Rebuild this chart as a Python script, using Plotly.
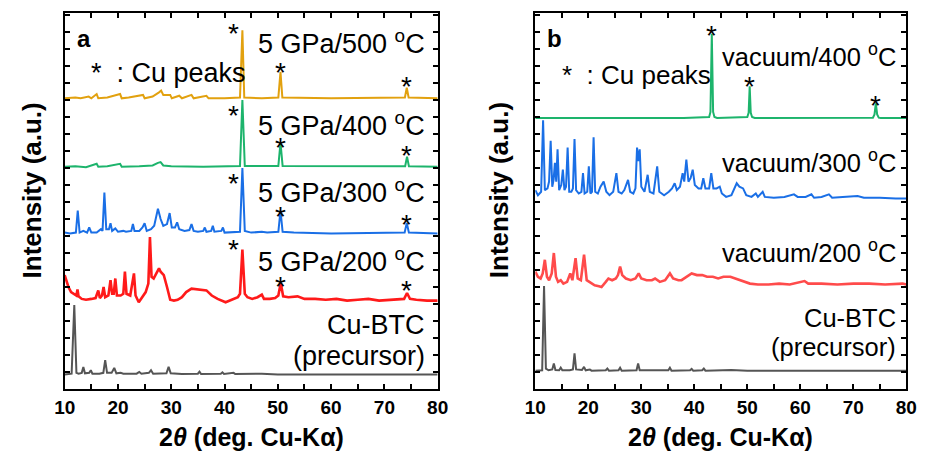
import plotly.graph_objects as go

# ---------------- data (2theta in degrees, intensity in arbitrary offset units) ----------------
orange_a = [(10,17.1),(12,17.15),(13,17.1),(14.5,17.2),(15,17.1),(16,17.35),(16.3,17.1),(18,17.15),
            (20.4,17.35),(20.7,17.1),(22,17.15),(24.7,17.3),(25,17.1),(26.5,17.2),(27.7,17.45),(28.1,17.55),
            (28.5,17.3),(29.8,17.3),(30.1,17.1),(31.5,17.25),(32,17.1),(33.8,17.3),(34.2,17.1),(36.6,17.25),
            (37,17.1),(40,17.1),(42.9,17.15),(43.35,21.1),(43.7,17.15),(47,17.1),(50.1,17.15),(50.5,18.65),
            (50.85,17.15),(60,17.1),(73.85,17.15),(74.2,17.72),(74.55,17.15),(80,17.1)]

green_a = [(10,13.08),(12,13.1),(14,13.05),(16,13.25),(16.3,13.08),(18,13.1),(20.4,13.25),(20.7,13.08),
           (24,13.1),(26.5,13.15),(27.5,13.3),(28,13.35),(28.5,13.15),(30,13.1),(36,13.08),(42.9,13.12),
           (43.35,17.0),(43.8,13.12),(50.1,13.12),(50.5,14.5),(50.9,13.12),(73.9,13.1),(74.25,13.67),
           (74.6,13.1),(80,13.08)]

blue_a = [(10,9.2),(11,9.15),(12.1,9.2),(12.45,10.5),(12.8,9.2),(13.5,9.3),(14.2,9.2),(14.6,9.5),(15,9.2),
          (16,9.2),(16.8,9.4),(17.1,9.3),(17.45,11.55),(17.8,9.4),(18.3,9.4),(18.6,9.75),(18.9,9.3),(19.5,9.45),
          (20,9.25),(21,9.3),(21.5,9.25),(22.5,9.3),(22.8,9.7),(23.1,9.3),(24,9.3),(24.6,9.5),(25.0,9.75),
          (25.4,9.3),(26.2,9.4),(26.8,9.6),(27.5,10.6),(28.0,10.0),(28.5,9.6),(29.2,9.7),(29.7,10.35),
          (30.1,9.5),(30.7,9.5),(31.1,9.8),(31.5,9.4),(32.5,9.3),(33.4,9.35),(33.8,9.7),(34.2,9.3),(35,9.25),
          (36.0,9.3),(36.3,9.5),(36.6,9.25),(37.5,9.3),(37.8,9.6),(38.1,9.25),(39.4,9.3),(39.7,9.5),(40,9.2),
          (42.9,9.25),(43.35,13.0),(43.8,9.3),(45,9.2),(47,9.25),(48,9.2),(50.1,9.25),(50.5,10.5),(50.9,9.25),
          (53,9.2),(60,9.15),(73.8,9.2),(74.2,9.76),(74.6,9.2),(80,9.15)]

red_a = [(10,6.7),(10.3,6.4),(10.7,6.0),(11.2,5.7),(11.8,5.55),(12.2,5.5),(12.4,5.85),(12.6,5.45),(13.2,5.3),
         (14,5.25),(15,5.3),(15.8,5.35),(16.3,5.8),(16.6,5.35),(17.0,5.5),(17.3,6.0),(17.6,5.4),(18.2,5.5),
         (18.6,6.4),(18.9,5.6),(19.2,5.6),(19.5,6.5),(19.8,5.5),(20.5,5.5),(21.0,5.6),(21.3,6.9),(21.6,5.6),
         (22.3,5.5),(23.0,6.8),(23.3,5.5),(23.9,5.1),(24.6,5.4),(25.2,5.7),(25.7,6.2),(26.0,8.94),(26.3,6.6),
         (26.7,6.5),(27.2,6.8),(27.7,7.1),(28.0,6.9),(28.6,6.7),(29.2,6.0),(29.8,5.25),(30.5,5.2),(31.2,5.25),
         (32.0,5.4),(32.8,5.7),(33.8,5.9),(35.0,5.85),(36.6,5.8),(37.6,5.5),(38.7,5.3),(40.2,5.1),(41.5,5.25),
         (42.5,5.4),(42.9,5.6),(43.35,8.2),(43.8,5.6),(44.3,5.4),(45.2,5.3),(46.2,5.4),(47.0,5.55),(47.4,5.3),
         (48.5,5.3),(49.5,5.35),(50.1,5.5),(50.55,6.24),(51.0,5.45),(52.0,5.4),(53.7,5.45),(55,5.3),(57,5.3),
         (59,5.25),(61,5.3),(63,5.2),(65,5.25),(67,5.3),(69,5.2),(71,5.25),(73.7,5.3),(74.25,5.65),(74.8,5.3),
         (76,5.25),(78,5.2),(80,5.2)]

gray_a = [(10,0.86),(11.3,0.9),(11.8,4.94),(12.2,0.95),(12.6,0.9),(13.2,0.95),(13.5,1.3),(13.8,0.92),
          (14.6,0.95),(14.9,1.1),(15.2,0.9),(16.5,0.9),(17.25,0.95),(17.6,1.7),(17.95,0.95),(18.8,0.95),
          (19.3,1.24),(19.7,0.92),(20.5,0.95),(21,0.9),(23.5,0.9),(24,1.0),(24.4,0.9),(25.8,0.95),(26.2,1.1),
          (26.6,0.9),(29.1,0.92),(29.5,1.3),(29.9,0.92),(32,0.88),(35.0,0.9),(35.3,1.02),(35.6,0.88),(38,0.88),
          (39.3,0.9),(39.6,0.98),(39.9,0.88),(41.7,0.95),(42,0.88),(47,0.9),(50,0.86),(60,0.86),(80,0.86)]

green_b = [(10,15.94),(38,15.94),(42.8,16.0),(43.05,16.3),(43.3,20.9),(43.55,16.3),(43.8,16.0),(44.3,15.94),
           (50.0,16.0),(50.25,16.25),(50.45,17.8),(50.65,16.25),(50.9,16.0),(51.4,15.94),(73.7,15.96),
           (74.0,16.15),(74.25,16.8),(74.5,16.15),(74.8,15.96),(75.2,15.94),(80,15.94)]

blue_b = [(10,11.7),(10.5,11.4),(11.1,11.6),(11.47,15.8),(11.8,11.7),(12.3,11.8),(12.6,12.2),(12.9,14.6),
          (13.2,11.9),(13.45,12.3),(13.7,13.3),(13.95,12.2),(14.2,14.1),(14.5,11.7),(14.9,12.0),(15.2,12.9),
          (15.5,11.7),(15.8,11.9),(16.1,14.2),(16.4,11.6),(16.8,11.6),(17.1,11.8),(17.4,14.7),(17.7,11.7),
          (18.2,11.5),(18.7,11.6),(19.0,12.7),(19.3,11.5),(19.8,11.6),(20.1,13.1),(20.4,11.5),(20.7,11.6),
          (21.0,14.8),(21.3,11.6),(21.8,11.5),(22.3,11.9),(22.9,12.2),(23.4,11.6),(24.0,11.4),(24.7,11.6),
          (25.3,12.7),(25.7,11.6),(26.3,11.5),(26.8,11.7),(27.5,12.3),(27.9,11.6),(28.5,11.5),(28.9,11.8),
          (29.2,14.2),(29.45,13.4),(29.7,14.1),(30.0,11.9),(30.6,11.6),(31.2,12.6),(31.6,11.6),(32.3,11.5),
          (33.0,13.1),(33.4,11.6),(34.3,11.4),(35.2,11.6),(35.8,11.8),(36.3,12.1),(36.7,11.7),(37.3,11.9),
          (37.8,12.7),(38.1,12.2),(38.5,13.5),(38.9,12.2),(39.3,12.4),(39.7,12.9),(40.1,12.0),(40.8,11.8),
          (41.3,11.8),(41.7,12.4),(42.1,11.8),(42.8,11.8),(43.2,12.7),(43.6,11.8),(44.2,11.8),(44.8,11.9),
          (45.2,11.5),(46.0,11.3),(47.0,11.4),(47.6,11.8),(48.0,12.1),(48.5,11.9),(49.2,11.8),(49.8,11.4),
          (50.8,11.3),(51.6,11.5),(52.0,11.3),(52.9,11.6),(53.3,11.3),(55,11.25),(57,11.3),(58.8,11.45),
          (59.5,11.3),(61,11.3),(62.1,11.45),(62.6,11.25),(64,11.3),(65.4,11.45),(66,11.25),(68,11.3),
          (70.8,11.35),(72,11.25),(75,11.25),(78,11.2),(80,11.2)]

red_b = [(10,6.9),(10.5,6.6),(11.0,6.5),(11.4,6.8),(11.8,7.6),(12.2,6.6),(12.6,6.4),(13.1,6.8),(13.5,8.0),
         (13.9,6.6),(14.3,6.3),(14.8,6.4),(15.3,6.2),(16.0,6.3),(16.6,6.8),(17.0,6.4),(17.6,7.7),(18.0,6.5),
         (18.6,6.4),(19.2,7.9),(19.7,6.4),(20.3,6.3),(21.2,6.1),(22.0,6.05),(22.5,6.0),(23.3,6.3),(23.8,6.5),
         (24.5,6.4),(25.2,6.5),(25.6,6.7),(26.0,7.2),(26.4,6.7),(27.1,6.5),(28.0,6.4),(28.9,6.5),(29.5,6.8),
         (30.0,6.5),(31.0,6.4),(32.0,6.4),(32.6,6.5),(33.5,6.3),(34.5,6.4),(35.4,6.8),(36.0,6.5),(37.0,6.4),
         (37.6,6.4),(38.6,6.6),(39.5,6.8),(40.5,6.7),(41.5,6.7),(42.4,6.6),(43.5,6.6),(44.5,6.5),(45.5,6.6),
         (46.8,6.6),(47.8,6.5),(48.7,6.4),(49.6,6.3),(50.5,6.2),(52,6.15),(54,6.15),(56,6.2),(58,6.15),
         (60.8,6.35),(61.5,6.2),(64,6.2),(67,6.15),(70,6.2),(73,6.2),(76,6.15),(79.3,6.2),(80,6.15)]

gray_b = [(10,1.08),(11.3,1.1),(11.65,6.06),(12.0,1.2),(12.5,1.1),(13.2,1.15),(13.5,1.5),(13.8,1.12),
          (14.5,1.1),(14.8,1.25),(15.1,1.1),(16.5,1.1),(17.1,1.15),(17.4,2.1),(17.7,1.15),(18.8,1.12),
          (19.2,1.3),(19.5,1.1),(20.3,1.15),(20.6,1.08),(23.3,1.1),(23.6,1.2),(23.9,1.08),(25.7,1.1),
          (26.0,1.25),(26.3,1.08),(29.1,1.1),(29.4,1.5),(29.7,1.1),(32,1.1),(35.1,1.1),(35.4,1.25),(35.7,1.08),
          (39.2,1.1),(39.5,1.18),(39.8,1.08),(41.5,1.1),(41.8,1.2),(42.1,1.08),(47,1.12),(50,1.08),(80,1.08)]

# Cu peak asterisk markers (2theta, intensity)
stars_a = [(41.7,21.41),(50.5,19.06),(74.1,18.24),(41.7,16.53),(50.5,14.66),(74.1,14.18),
           (41.7,12.53),(50.5,10.61),(74.1,10.12),(41.7,8.65),(50.5,6.48),(74.1,6.29)]
stars_b = [(43.3,21.24),(50.5,18.29),(74.25,17.12)]

labels_a = ["5 GPa/500 <sup>o</sup>C", "5 GPa/400 <sup>o</sup>C", "5 GPa/300 <sup>o</sup>C",
            "5 GPa/200 <sup>o</sup>C", "Cu-BTC", "(precursor)"]
labels_b = ["vacuum/400 <sup>o</sup>C", "vacuum/300 <sup>o</sup>C", "vacuum/200 <sup>o</sup>C",
            "Cu-BTC", "(precursor)"]
x_ticks = [10, 15, 20, 25, 30, 35, 40, 45, 50, 55, 60, 65, 70, 75, 80]
x_ticktext = ["10", "", "20", "", "30", "", "40", "", "50", "", "60", "", "70", "", "80"]

# ---------------- styles ----------------
FONT = "Liberation Sans, Arial, sans-serif"
W, H = 930, 452
C_OR, C_GR, C_BL, C_RD, C_RD2, C_GY = "#E2A10F", "#1DB46C", "#1A6FE6", "#FF1A1A", "#FF4B4B", "#555555"

fig = go.Figure()

def add(pts, color, xa, ya, width=2.0):
    xs, ys = zip(*pts)
    fig.add_trace(go.Scatter(x=list(xs), y=list(ys), mode="lines", xaxis=xa, yaxis=ya,
                             line=dict(color=color, width=width), showlegend=False, hoverinfo="skip"))

add(gray_a, C_GY, "x", "y"); add(red_a, C_RD, "x", "y", 2.6); add(blue_a, C_BL, "x", "y")
add(green_a, C_GR, "x", "y"); add(orange_a, C_OR, "x", "y")
add(gray_b, C_GY, "x2", "y2"); add(red_b, C_RD2, "x2", "y2", 2.6); add(blue_b, C_BL, "x2", "y2")
add(green_b, C_GR, "x2", "y2")

px = lambda v: v / W
py = lambda v: 1 - v / H
ydom = [py(389), py(13)]
yrange = [0, 376 / 17]

xcommon = dict(range=[10, 80], tickvals=x_ticks, ticktext=x_ticktext, ticks="inside", ticklen=5,
               tickwidth=1.5, tickcolor="black", showline=True, linewidth=2, linecolor="black",
               mirror="ticks", showgrid=False, zeroline=False,
               tickfont=dict(family=FONT, size=19, color="black", weight="bold"))
ycommon = dict(range=yrange, tickvals=list(range(1, 23)), ticks="inside", ticklen=5, tickwidth=1.5,
               tickcolor="black", showticklabels=False, showline=True, linewidth=2, linecolor="black",
               mirror="ticks", showgrid=False, zeroline=False, domain=ydom)

fig.update_layout(
    width=W, height=H, margin=dict(l=0, r=0, t=0, b=0),
    paper_bgcolor="white", plot_bgcolor="white",
    xaxis=dict(domain=[px(55), px(437)], anchor="y", **xcommon),
    yaxis=dict(anchor="x", **ycommon),
    xaxis2=dict(domain=[px(537), px(917)], anchor="y2", **xcommon),
    yaxis2=dict(anchor="x2", **ycommon),
)

ann = []
def text(x, y, s, size, xanchor="right", xref="paper", yref="paper", yshift=0, angle=0):
    ann.append(dict(x=x, y=y, xref=xref, yref=yref, text=s, showarrow=False, xanchor=xanchor,
                    yanchor="middle", yshift=yshift, textangle=angle,
                    font=dict(family=FONT, size=size, color="black")))

for (lx, ly) in zip(labels_a, [42, 124, 191, 260, 325, 356]):
    text(px(426), py(ly), lx, 27)
for (lx, ly) in zip(labels_b, [55, 161, 251, 318, 347]):
    text(px(908), py(ly), lx, 25.5)
for (sx, sy) in stars_a:
    text(sx, sy, "*", 28, "center", "x", "y", -8)
for (sx, sy) in stars_b:
    text(sx, sy, "*", 28, "center", "x2", "y2", -8)

text(px(80), py(73), "*  : Cu peaks", 27, "left")
text(px(562), py(75), "*  : Cu peaks", 26, "left")
text(px(66), py(38), "<b>a</b>", 24, "left")
text(px(547), py(39), "<b>b</b>", 24, "left")
text(px(246), py(437), "<b>2<i>θ</i> (deg. Cu-Kα)</b>", 25, "center")
text(px(727), py(437), "<b>2<i>θ</i> (deg. Cu-Kα)</b>", 25, "center")
text(px(22), py(190), "<b>Intensity (a.u.)</b>", 26, "center", angle=-90)
text(px(500), py(190), "<b>Intensity (a.u.)</b>", 26, "center", angle=-90)

fig.update_layout(annotations=ann)
fig.write_html("out.html")
